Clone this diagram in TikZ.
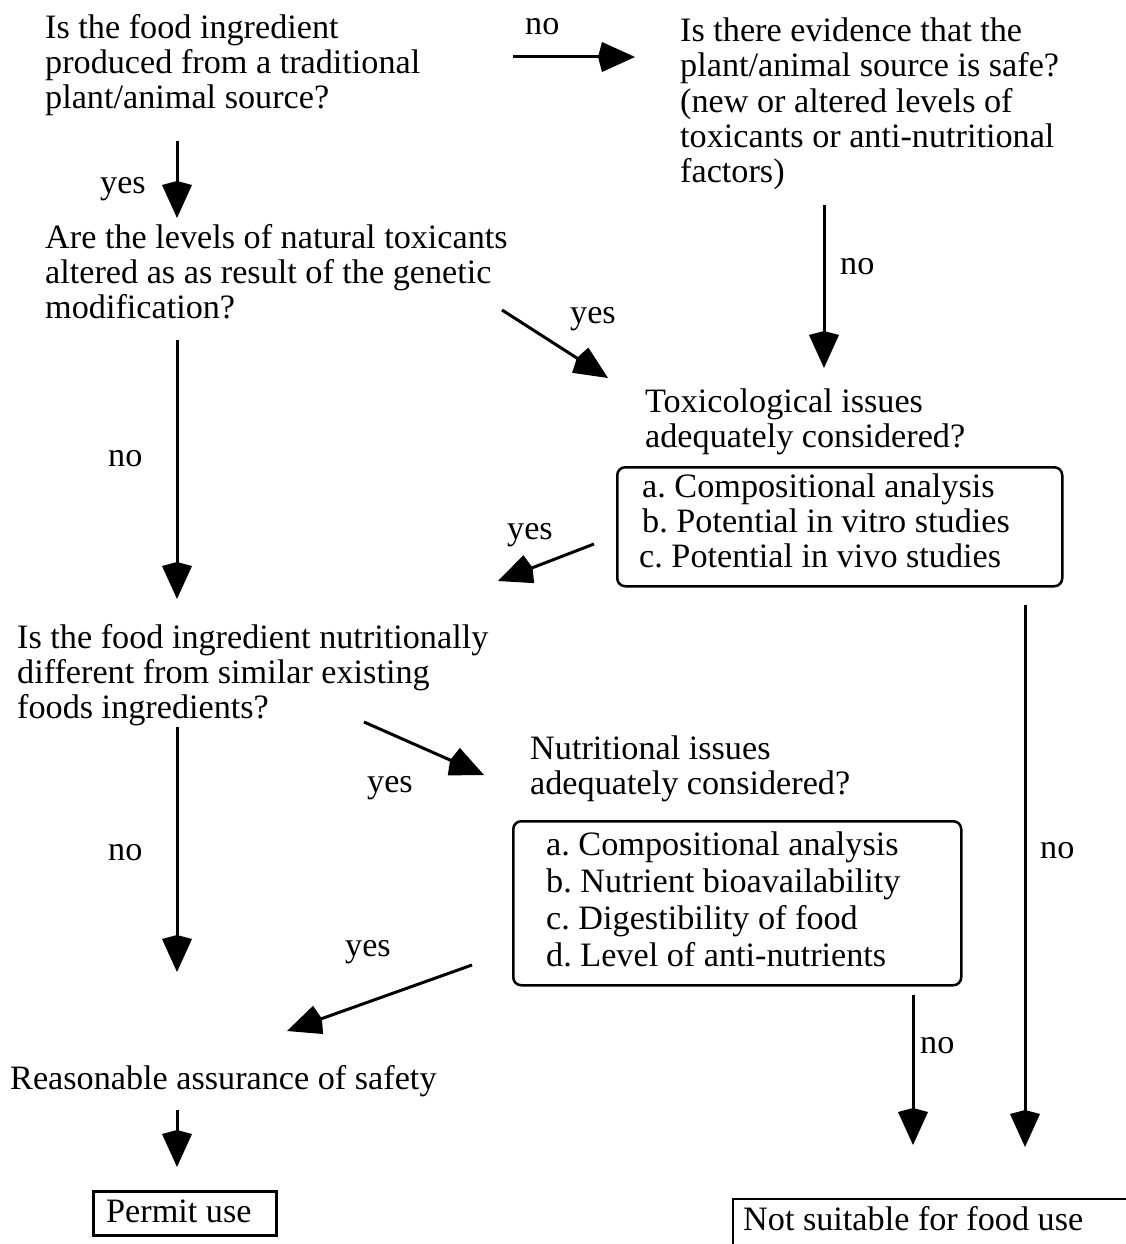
\documentclass[tikz,border=0pt]{standalone}
\usepackage{fontspec}
\setmainfont{Liberation Serif}
\usetikzlibrary{arrows.meta}
\frenchspacing
\begin{document}
\begin{tikzpicture}[x=1pt,y=-1pt,
  txt/.style={anchor=base west, inner sep=0pt, align=left, font=\fontsize{34.2}{35}\selectfont},
  lbl/.style={anchor=base west, inner sep=0pt, font=\fontsize{34.2}{35}\selectfont},
  arr/.style={line width=3pt, -{Kite[length=37pt,width=30pt,inset=4pt]}},
  listbox/.style={draw, line width=2.5pt, rounded corners=8pt, anchor=north west, inner sep=0pt},
  plainbox/.style={draw, line width=2.8pt, anchor=north west, inner sep=0pt}
]
\useasboundingbox (0,0) rectangle (1125,1244);

% question texts (anchor = baseline of last line)
\node[txt] (q1) at (45,109) {Is the food ingredient\\produced from a traditional\\plant/animal source?};
\node[txt] (q2) at (680,182) {Is there evidence that the\\plant/animal source is safe?\\(new or altered levels of\\toxicants or anti-nutritional\\factors)};
\node[txt] (q3) at (45,318) {Are the levels of natural toxicants\\altered as as result of the genetic\\modification?};
\node[txt] (tox) at (645,447) {Toxicological issues\\adequately considered?};
\node[listbox, minimum width=445pt, minimum height=119pt] (toxbox) at (616,466) {};
\node[txt] (toxlist) at (642,567) {a. Compositional analysis\\b. Potential in vitro studies\\\hspace*{-3pt}c. Potential in vivo studies};
\node[txt] (q4) at (17,718) {Is the food ingredient nutritionally\\different from similar existing\\foods ingredients?};
\node[txt] (nut) at (530,794) {Nutritional issues\\adequately considered?};
\node[listbox, minimum width=448pt, minimum height=164pt] (nutbox) at (512,820) {};
\node[txt, font=\fontsize{34.2}{37}\selectfont] (nutlist) at (546,966) {a. Compositional analysis\\b. Nutrient bioavailability\\c. Digestibility of food\\d. Level of anti-nutrients};
\node[txt] (safe) at (10,1089) {Reasonable assurance of safety};
\node[plainbox, minimum width=183pt, minimum height=44pt] (permitbox) at (92,1190) {};
\node[txt] (permit) at (106,1222) {Permit use};
\draw[line width=2.8pt] (1126,1199) -| (733,1245);
\node[txt] (notsuit) at (743,1230) {Not suitable for food use};

% labels
\node[lbl] (l1) at (525,35) {no};
\node[lbl] (l2) at (100,193) {yes};
\node[lbl] (l3) at (570,323) {yes};
\node[lbl] (l4) at (840,274) {no};
\node[lbl] (l5) at (108,466) {no};
\node[lbl] (l6) at (507,539) {yes};
\node[lbl] (l7) at (367,792) {yes};
\node[lbl] (l8) at (108,860) {no};
\node[lbl] (l9) at (345,956) {yes};
\node[lbl] (l10) at (1040,858) {no};
\node[lbl] (l11) at (920,1053) {no};

% arrow end points
\coordinate (h1s) at (513,57);   \coordinate (h1e) at (635,57);
\coordinate (v1s) at (177,141);  \coordinate (v1e) at (177,218);
\coordinate (d1s) at (502,310);  \coordinate (d1e) at (608,378);
\coordinate (v2s) at (824,205);  \coordinate (v2e) at (824,368);
\coordinate (v3s) at (177,340);  \coordinate (v3e) at (177,599);
\coordinate (d2s) at (594,544);  \coordinate (d2e) at (498,581);
\coordinate (d3s) at (364,722);  \coordinate (d3e) at (484,775);
\coordinate (v4s) at (177,727);  \coordinate (v4e) at (177,972);
\coordinate (d4s) at (472,965);  \coordinate (d4e) at (287,1031);
\coordinate (v5s) at (1025,605); \coordinate (v5e) at (1025,1147);
\coordinate (v6s) at (913,995);  \coordinate (v6e) at (913,1145);
\coordinate (v7s) at (177,1110); \coordinate (v7e) at (177,1167);

\draw[arr] (h1s) -- (h1e);
\draw[arr] (v1s) -- (v1e);
\draw[arr] (d1s) -- (d1e);
\draw[arr] (v2s) -- (v2e);
\draw[arr] (v3s) -- (v3e);
\draw[arr] (d2s) -- (d2e);
\draw[arr] (d3s) -- (d3e);
\draw[arr] (v4s) -- (v4e);
\draw[arr] (d4s) -- (d4e);
\draw[arr] (v5s) -- (v5e);
\draw[arr] (v6s) -- (v6e);
\draw[arr] (v7s) -- (v7e);
\end{tikzpicture}
\end{document}
